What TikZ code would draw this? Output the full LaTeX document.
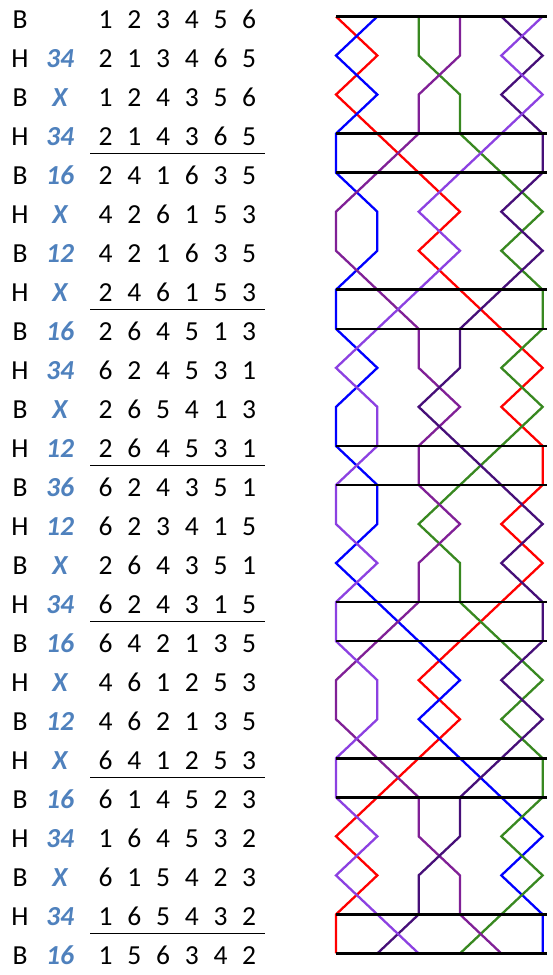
\documentclass[tikz,border=0pt]{standalone}
\usepackage{fontspec}
\setmainfont{Carlito}
\definecolor{callblue}{RGB}{79,129,189}
\definecolor{bellgreen}{RGB}{56,136,32}
\definecolor{bellpurple}{RGB}{128,32,150}
\definecolor{bellindigo}{RGB}{70,15,120}
\definecolor{bellviolet}{RGB}{140,65,225}

\begin{document}
\begin{tikzpicture}[x=1pt, y=-1pt,
	every node/.style={font=\fontsize{27.5}{32}\selectfont, anchor=base, inner sep=0pt},
	callnum/.style={text=callblue, font=\fontsize{27.5}{32}\selectfont\bfseries\itshape},
	bellline/.style={line width=2.3pt},
	bandline/.style={line width=2.6pt},
	leadline/.style={line width=1.3pt}]
\useasboundingbox (0,0) rectangle (552,975);

% rows of the touch: stroke, call, change
\foreach \side/\call/\chg [count=\row] in {B//{1,2,3,4,5,6},
	H/34/{2,1,3,4,6,5}, B/X/{1,2,4,3,5,6}, H/34/{2,1,4,3,6,5},
	B/16/{2,4,1,6,3,5}, H/X/{4,2,6,1,5,3}, B/12/{4,2,1,6,3,5}, H/X/{2,4,6,1,5,3},
	B/16/{2,6,4,5,1,3}, H/34/{6,2,4,5,3,1}, B/X/{2,6,5,4,1,3}, H/12/{2,6,4,5,3,1},
	B/36/{6,2,4,3,5,1}, H/12/{6,2,3,4,1,5}, B/X/{2,6,4,3,5,1}, H/34/{6,2,4,3,1,5},
	B/16/{6,4,2,1,3,5}, H/X/{4,6,1,2,5,3}, B/12/{4,6,2,1,3,5}, H/X/{6,4,1,2,5,3},
	B/16/{6,1,4,5,2,3}, H/34/{1,6,4,5,3,2}, B/X/{6,1,5,4,2,3}, H/34/{1,6,5,4,3,2},
	B/16/{1,5,6,3,4,2}}{
	\node (s-\row) at (20,{28.5+39*(\row-1)}) {\side};
	\node[callnum] (c-\row) at (60,{28.5+39*(\row-1)}) {\call};
	\foreach \bell [count=\p] in \chg {
		\node (n-\row-\p) at ({105.7+28.7*(\p-1)},{28.5+39*(\row-1)}) {\bell};
		\coordinate (b-\row-\bell) at ({336+41.33*(\p-1)},{16.5+39.04*(\row-1)});
	}
}

% lead ends
\foreach \row in {4,8,...,24}
	\draw[leadline] (n-\row-1.base) ++(-15.7,8) -- ++(175,0);

% line of each bell
\foreach \bell/\col in {1/red, 2/blue, 3/bellgreen, 4/bellpurple, 5/bellindigo, 6/bellviolet}
	\draw[bellline, color=\col] (b-1-\bell) \foreach \row in {2,...,25} { -- (b-\row-\bell) };

\foreach \row in {1,4,5,8,9,12,13,16,17,20,21,24,25}
	\draw[bandline] (336,{16.5+39.04*(\row-1)}) -- ++(211,0);
\end{tikzpicture}
\end{document}
